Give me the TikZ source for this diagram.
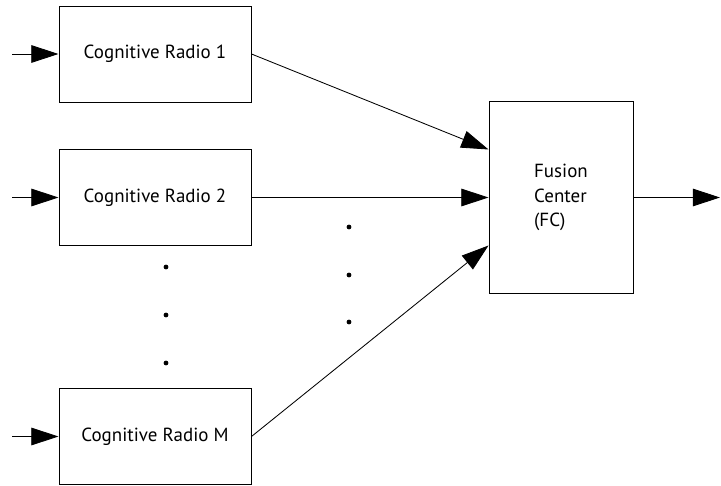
\documentclass[tikz,border=0pt]{standalone}
\usepackage{fontspec}
\setmainfont{PT Sans}
\usetikzlibrary{arrows.meta}

\begin{document}
\begin{tikzpicture}
[radionode/.style={rectangle, draw=black, line width=0.7pt, minimum width=4.8cm, minimum height=2.4cm, font=\fontsize{13.5}{15}\selectfont},
fusionnode/.style={rectangle, draw=black, line width=0.7pt, minimum width=3.6cm, minimum height=4.78cm, align=left, font=\fontsize{13.5}{17.5}\selectfont},
dotnode/.style={circle, fill=black, inner sep=0pt, minimum size=1.2mm},
connect/.style={-{Triangle[length=6.8mm,width=4.4mm]}, line width=0.6pt}]
\useasboundingbox (0, 0) rectangle (18.025, 12.125);

\node[radionode]	(radio1) at (3.875, 10.775) {Cognitive Radio 1};
\node[radionode]	(radio2) at (3.875, 7.1875) {Cognitive Radio 2};
\node[radionode]	(radioM) at (3.875, 1.2125) {Cognitive Radio M};
\node[fusionnode]	(fc) at (14.025, 7.1875) {Fusion\\Center\\(FC)};

\node[dotnode]	(dot1) at (4.15, 5.45) {};
\node[dotnode]	(dot2) at (4.15, 4.25) {};
\node[dotnode]	(dot3) at (4.15, 3.05) {};
\node[dotnode]	(dot4) at (8.725, 6.45) {};
\node[dotnode]	(dot5) at (8.725, 5.25) {};
\node[dotnode]	(dot6) at (8.725, 4.075) {};

\coordinate (in1) at (0.3, 10.775);
\coordinate (in2) at (0.3, 7.1875);
\coordinate (inM) at (0.3, 1.2125);
\coordinate (out) at (18.0, 7.1875);

\draw[connect] (in1) -- (radio1.west);
\draw[connect] (in2) -- (radio2.west);
\draw[connect] (inM) -- (radioM.west);
\draw[connect] (radio1.east) -- ([yshift=1.2cm]fc.west);
\draw[connect] (radio2.east) -- (fc.west);
\draw[connect] (radioM.east) -- ([yshift=-1.2cm]fc.west);
\draw[connect] (fc.east) -- (out);

\end{tikzpicture}
\end{document}
